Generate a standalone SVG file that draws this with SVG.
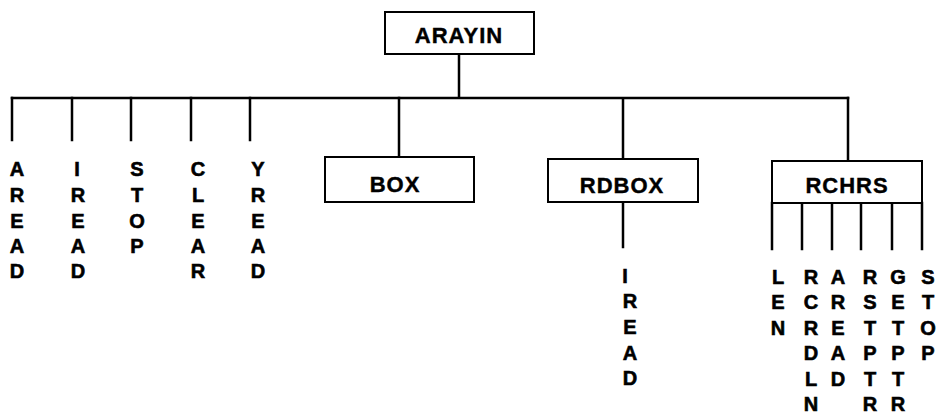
<svg xmlns="http://www.w3.org/2000/svg" width="938" height="414" viewBox="0 0 938 414">
<style>
.box{fill:#fff;stroke:#000;stroke-width:2}
.ln{stroke:#000;stroke-width:2.5;fill:none;stroke-linecap:square}
.lbl{font-family:"Liberation Sans",Arial,sans-serif;font-weight:bold;font-size:22px;letter-spacing:1px;text-anchor:middle;fill:#000;stroke:#000;stroke-width:0.4}
.v{font-family:"Liberation Sans",Arial,sans-serif;font-weight:bold;font-size:20px;text-anchor:middle;fill:#000;stroke:#000;stroke-width:0.6}
</style>
<rect width="938" height="414" fill="#fff"/>
<g id="connectors">
<path class="ln" d="M459 55V98M12 98H848"/>
<path class="ln" d="M12 98V140M72 98V140M131 98V140M191 98V140M250 98V140"/>
<path class="ln" d="M399 98V157M623 99V159M848 98V161"/>
<path class="ln" d="M623 202V247"/>
<path class="ln" d="M772 203V249M802 203V249M832 203V249M861 203V249M892 203V249M922 203V249"/>
</g>
<g id="ARAYIN"><rect class="box" x="385" y="12" width="149" height="42"/><text class="lbl" x="459" y="43">ARAYIN</text></g>
<g id="BOX"><rect class="box" x="325" y="157" width="149" height="45"/><text class="lbl" x="395" y="192">BOX</text></g>
<g id="RDBOX"><rect class="box" x="548" y="159" width="150" height="43"/><text class="lbl" x="622" y="193">RDBOX</text></g>
<g id="RCHRS"><rect class="box" x="772" y="161" width="150" height="42"/><text class="lbl" x="847" y="193">RCHRS</text></g>
<g id="AREAD"><text class="v" x="17" y="176">A</text><text class="v" x="17" y="202">R</text><text class="v" x="17" y="228">E</text><text class="v" x="17" y="253">A</text><text class="v" x="17" y="278">D</text></g>
<g id="IREAD"><text class="v" x="77" y="176">I</text><text class="v" x="78" y="202">R</text><text class="v" x="78" y="228">E</text><text class="v" x="78" y="253">A</text><text class="v" x="78" y="278">D</text></g>
<g id="STOP"><text class="v" x="137" y="176">S</text><text class="v" x="137" y="202">T</text><text class="v" x="137" y="228">O</text><text class="v" x="137" y="253">P</text></g>
<g id="CLEAR"><text class="v" x="198" y="176">C</text><text class="v" x="198" y="202">L</text><text class="v" x="198" y="228">E</text><text class="v" x="198" y="253">A</text><text class="v" x="198" y="278">R</text></g>
<g id="YREAD"><text class="v" x="258" y="176">Y</text><text class="v" x="258" y="202">R</text><text class="v" x="258" y="228">E</text><text class="v" x="258" y="253">A</text><text class="v" x="258" y="278">D</text></g>
<g id="IREAD2"><text class="v" x="625" y="283">I</text><text class="v" x="630" y="308">R</text><text class="v" x="630" y="334">E</text><text class="v" x="630" y="360">A</text><text class="v" x="630" y="385">D</text></g>
<g id="LEN"><text class="v" x="778" y="284">L</text><text class="v" x="778" y="309">E</text><text class="v" x="778" y="335">N</text></g>
<g id="RCRDLN"><text class="v" x="811" y="284">R</text><text class="v" x="811" y="309">C</text><text class="v" x="811" y="335">R</text><text class="v" x="811" y="360">D</text><text class="v" x="811" y="386">L</text><text class="v" x="811" y="411">N</text></g>
<g id="AREAD2"><text class="v" x="838" y="284">A</text><text class="v" x="838" y="309">R</text><text class="v" x="838" y="335">E</text><text class="v" x="838" y="360">A</text><text class="v" x="838" y="386">D</text></g>
<g id="RSTPTR"><text class="v" x="870" y="284">R</text><text class="v" x="870" y="309">S</text><text class="v" x="870" y="335">T</text><text class="v" x="870" y="360">P</text><text class="v" x="870" y="386">T</text><text class="v" x="870" y="411">R</text></g>
<g id="GETPTR"><text class="v" x="898" y="284">G</text><text class="v" x="898" y="309">E</text><text class="v" x="898" y="335">T</text><text class="v" x="898" y="360">P</text><text class="v" x="898" y="386">T</text><text class="v" x="898" y="411">R</text></g>
<g id="STOP2"><text class="v" x="928" y="284">S</text><text class="v" x="928" y="309">T</text><text class="v" x="928" y="335">O</text><text class="v" x="928" y="360">P</text></g>
</svg>
